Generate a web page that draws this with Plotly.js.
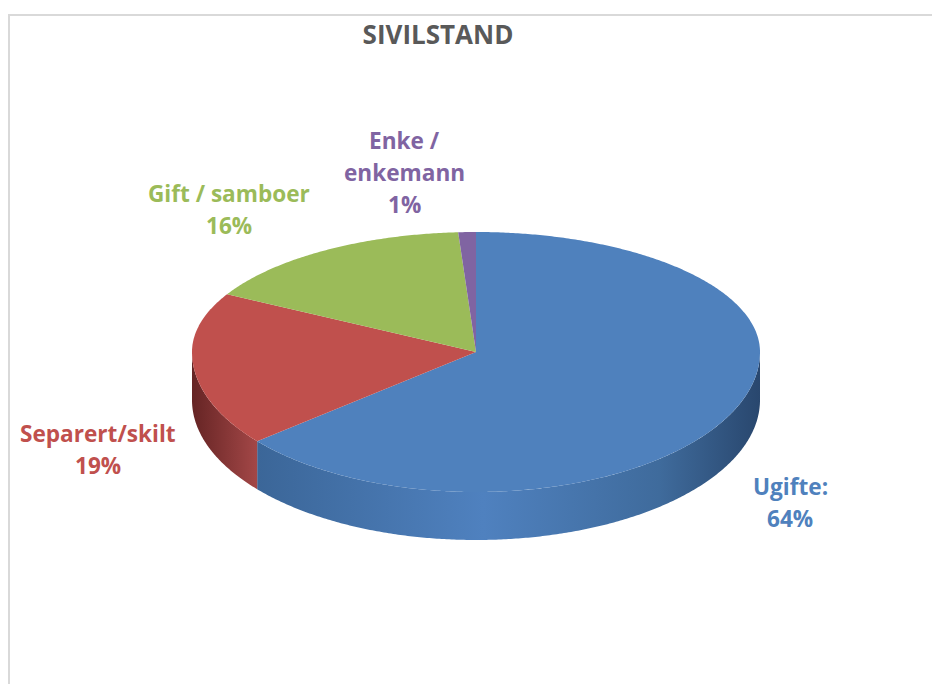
<!DOCTYPE html>
<html>
<head>
<meta charset="utf-8">
<script src="https://cdn.plot.ly/plotly-3.0.1.min.js"></script>
<style>html,body{margin:0;padding:0;background:#fff;}#chart{width:932px;height:684px;}</style>
</head>
<body>
<div id="chart"></div>
<script>
// ---- data ----
const categories = ['Ugifte:', 'Separert/skilt', 'Gift / samboer', 'Enke / enkemann'];
const labelLines = [['Ugifte:'], ['Separert/skilt'], ['Gift / samboer'], ['Enke /', 'enkemann']];
const values = [64, 19, 16, 1];
const chartTitle = 'SIVILSTAND';

// ---- styles / geometry ----
const topColors = ['#4f81bd', '#c0504d', '#9bbb59', '#8064a2'];
const sideScales = [
  [[0, '#3b6698'], [0.45, '#4f81bf'], [0.8, '#3f6b9c'], [1, '#29476e']],
  [[0, '#652424'], [1, '#a34747']],
  [[0, '#7a9445'], [1, '#9bbb59']],
  [[0, '#5e4a7a'], [1, '#8064a2']]
];
const labelPos = [[790, 486], [98, 433], [229, 193], [404, 140]];
const lineGap = 32;
const cx = 476, cy = 352, rx = 284, ryTop = 120, ryBot = 140, depth = 48;
const FONT = '"Open Sans", Lato, sans-serif';

function pt(frac) {
  const t = 2 * Math.PI * frac;
  const c = Math.cos(t);
  return [cx + rx * Math.sin(t), cy - c * (c > 0 ? ryTop : ryBot)];
}
function arc(a, b) {
  const n = Math.max(2, Math.ceil((b - a) * 720));
  const xs = [], ys = [];
  for (let i = 0; i <= n; i++) {
    const p = pt(a + (b - a) * i / n);
    xs.push(p[0]); ys.push(p[1]);
  }
  return [xs, ys];
}

const total = values.reduce((s, v) => s + v, 0);
const traces = [];
const tops = [];
let acc = 0;
values.forEach((v, i) => {
  const a = acc / total, b = (acc + v) / total;
  acc += v;
  // side wall (front half only: 0.25..0.75)
  const sa = Math.max(a, 0.25), sb = Math.min(b, 0.75);
  if (sb > sa) {
    const [xs, ys] = arc(sa, sb);
    const px = xs.concat(xs.slice().reverse(), [xs[0]]);
    const py = ys.concat(ys.slice().reverse().map(y => y + depth), [ys[0]]);
    traces.push({
      type: 'scatter', mode: 'none', x: px, y: py, fill: 'toself',
      fillcolor: topColors[i],
      fillgradient: {type: 'horizontal', colorscale: sideScales[i]},
      hoverinfo: 'skip', showlegend: false
    });
  }
  const [xs, ys] = arc(a, b);
  tops.push({
    type: 'scatter', mode: 'none',
    x: [cx].concat(xs, [cx]), y: [cy].concat(ys, [cy]),
    fill: 'toself', fillcolor: topColors[i],
    name: categories[i], hoverinfo: 'name', showlegend: false
  });
});

const annotations = [];
values.forEach((v, i) => {
  const lines = labelLines[i].concat([v + '%']);
  lines.forEach((ln, k) => {
    annotations.push({
      x: labelPos[i][0], y: labelPos[i][1] + k * lineGap,
      xref: 'x', yref: 'y', text: ln, showarrow: false,
      xanchor: 'center', yanchor: 'middle',
      font: {family: FONT, size: 22.6, color: topColors[i], weight: 'bold'}
    });
  });
});

const layout = {
  width: 932, height: 684,
  margin: {l: 0, r: 0, t: 0, b: 0},
  paper_bgcolor: '#ffffff', plot_bgcolor: '#ffffff',
  title: {
    text: '<b>' + chartTitle + '</b>',
    x: 438 / 932, xref: 'paper', xanchor: 'center',
    y: 1 - 35 / 684, yref: 'container', yanchor: 'middle',
    font: {family: FONT, size: 26, color: '#595959'}
  },
  xaxis: {range: [0, 932], visible: false, fixedrange: true},
  yaxis: {range: [684, 0], visible: false, fixedrange: true},
  showlegend: false,
  annotations: annotations,
  shapes: [{
    type: 'rect', xref: 'paper', yref: 'paper',
    x0: 9 / 932, x1: 1.02, y0: 1 - 15 / 684, y1: -0.02,
    line: {color: '#d9d9d9', width: 2}, layer: 'below'
  }]
};

Plotly.newPlot('chart', traces.concat(tops), layout, {displayModeBar: false, staticPlot: true});
</script>
</body>
</html>
